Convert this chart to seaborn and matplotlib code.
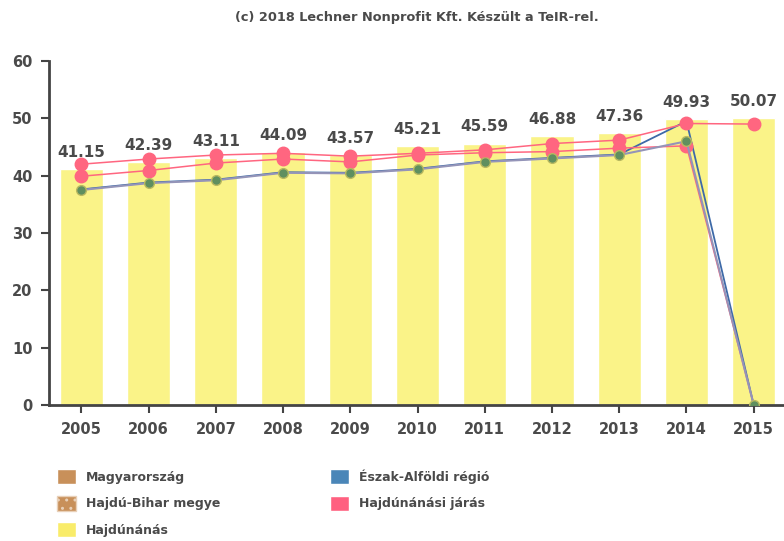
import matplotlib
matplotlib.use("Agg")
import matplotlib.pyplot as plt
from matplotlib.patches import Patch
import seaborn as sns
import pandas as pd

years = ["2005", "2006", "2007", "2008", "2009", "2010", "2011", "2012", "2013", "2014", "2015"]
hajdunanas = [41.15, 42.39, 43.11, 44.09, 43.57, 45.21, 45.59, 46.88, 47.36, 49.93, 50.07]
jaras = [42.0, 42.9, 43.6, 43.9, 43.4, 43.9, 44.5, 45.6, 46.2, 49.1, 49.0]
megye = [39.9, 40.9, 42.2, 42.9, 42.4, 43.6, 44.0, 44.2, 44.8, 45.2, 0.0]
regio = [37.6, 38.8, 39.3, 40.6, 40.5, 41.2, 42.5, 43.1, 43.7, 49.5, 0.0]
orszag = [37.5, 38.7, 39.2, 40.5, 40.4, 41.1, 42.4, 43.0, 43.6, 46.0, 0.0]
yticks = [0, 10, 20, 30, 40, 50, 60]

sns.set_theme(style="white")
plt.rcParams["font.family"] = ["DejaVu Sans"]
txt = "#4a4a4a"

fig = plt.figure(figsize=(7.84, 5.41), dpi=100)
ax = fig.add_axes([49/784, 1 - 405/541, 735/784, 344/541])

df = pd.DataFrame({"year": years, "value": hajdunanas})
sns.barplot(data=df, x="year", y="value", color="#faf388", saturation=1,
            width=0.64, ax=ax, zorder=1)

xs = list(range(len(years)))
ax.plot(xs, regio, color="#3e6aa8", lw=1.3, zorder=2)
ax.plot(xs, megye, color="#ff6680", lw=1.1, marker="o", ms=9,
        mfc="#ff6680", mec="#ff6680", markevery=list(range(len(years) - 1)), zorder=3)
ax.plot(xs, orszag, color="#9494b8", lw=1.5, marker="o", ms=7,
        mfc="#5f8f5f", mec="#b8b860", mew=1, zorder=4)
ax.plot(xs, jaras, color="#ff6680", lw=1.1, marker="o", ms=9,
        mfc="#ff6680", mec="#ff6680", zorder=5)

for i, v in enumerate(hajdunanas):
    ax.text(i, v + 1.6, f"{v:.2f}", ha="center", va="bottom",
            fontsize=11, fontweight="bold", color=txt)

ax.set_ylim(0, 60)
ax.set_xlim(-0.48, 10.45)
ax.set_yticks(yticks)
ax.set_xlabel("")
ax.set_ylabel("")
for s in ["top", "right"]:
    ax.spines[s].set_visible(False)
for s in ["left", "bottom"]:
    ax.spines[s].set_color("#444444")
    ax.spines[s].set_linewidth(2)
ax.tick_params(axis="both", which="both", direction="out", length=6, width=1.5,
               color="#444444", labelsize=10.5, labelcolor=txt, left=True, bottom=True, pad=6)
for lab in ax.get_xticklabels() + ax.get_yticklabels():
    lab.set_fontweight("bold")

fig.text(417/784, 1 - 17/541, "(c) 2018 Lechner Nonprofit Kft. Készült a TeIR-rel.",
         ha="center", va="center", fontsize=9.3, color=txt, fontweight="bold")

handles = [
    Patch(facecolor="#c8905a", label="Magyarország"),
    Patch(facecolor="#c8905a", hatch="..", edgecolor="#e8d0b8", label="Hajdú-Bihar megye"),
    Patch(facecolor="#f9ec6a", label="Hajdúnánás"),
    Patch(facecolor="#4a86b8", label="Észak-Alföldi régió"),
    Patch(facecolor="#ff6080", label="Hajdúnánási járás"),
]
leg = fig.legend(handles=handles, ncol=2, loc="upper left",
                 bbox_to_anchor=(52/784, 1 - 464/541), frameon=False,
                 fontsize=9, handlelength=1.5, handleheight=1.5,
                 labelspacing=0.9, columnspacing=8.8, handletextpad=0.8,
                 borderaxespad=0)
for t in leg.get_texts():
    t.set_color(txt)
    t.set_fontweight("bold")

fig.savefig("out.png", dpi=100)
